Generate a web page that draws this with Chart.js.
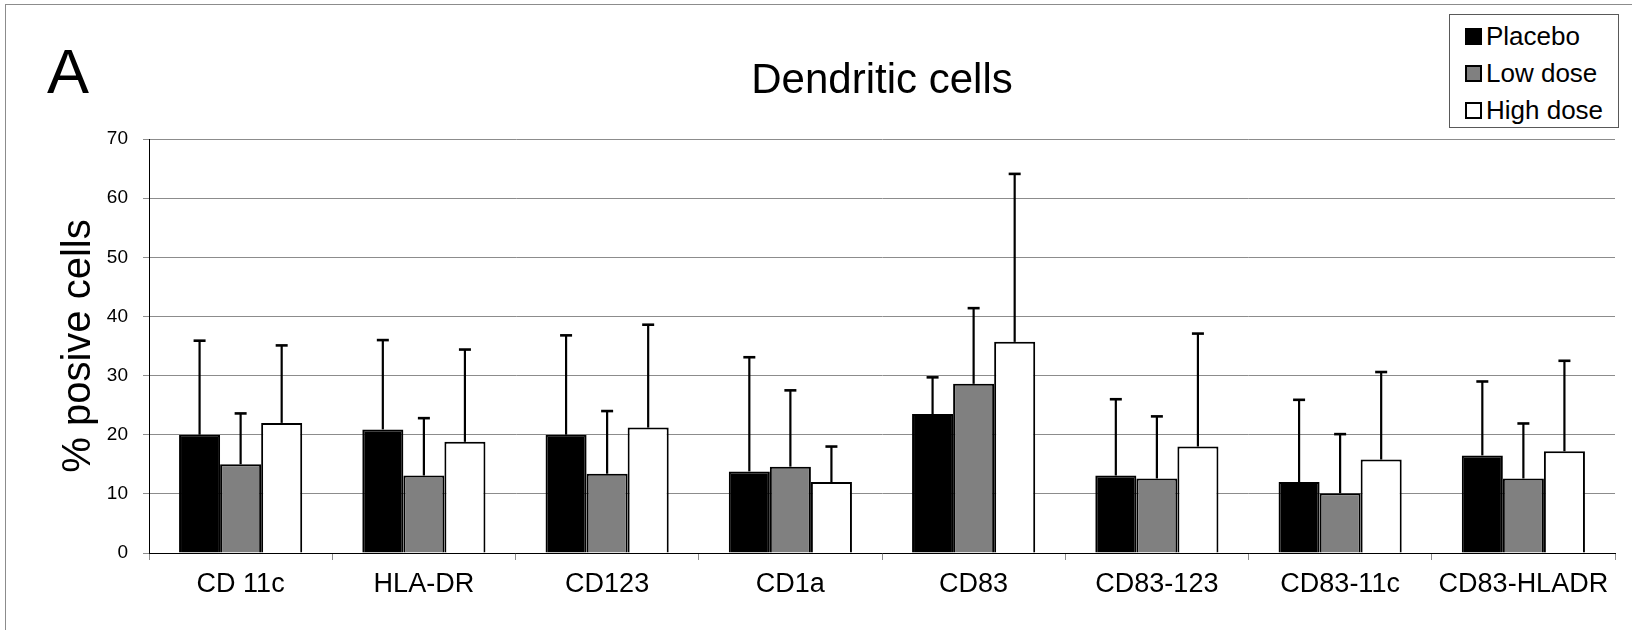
<!DOCTYPE html>
<html>
<head>
<meta charset="utf-8">
<script src="https://cdn.jsdelivr.net/npm/chart.js@4"></script>
<style>
    html, body { margin: 0; padding: 0; background: #fff; }
    body { width: 1632px; height: 630px; position: relative; overflow: hidden; font-family: "Liberation Sans", Arial, sans-serif; }
    #frame { position: absolute; left: 5px; top: 4px; width: 1700px; height: 700px; border-left: 1px solid #8c8c8c; border-top: 1px solid #8c8c8c; }
    #chartBox { position: absolute; left: 0; top: 0; width: 1632px; height: 630px; }
    #legend { position: absolute; left: 1449px; top: 14px; width: 168px; height: 112px; border: 1px solid #595959; background: #fff; }
    .item { position: absolute; left: 15px; height: 24px; display: flex; align-items: center; font-size: 26px; color: #000; white-space: nowrap; }
    .swatch { width: 13px; height: 13px; border: 2px solid #000; margin-right: 4px; }
</style>
</head>
<body>
<div id="frame"></div>
<div id="chartBox"><canvas id="chart" width="1632" height="630"></canvas></div>
<div id="legend"></div>
<script>
// --- dados ---
const categorias = ['CD 11c', 'HLA-DR', 'CD123', 'CD1a', 'CD83', 'CD83-123', 'CD83-11c', 'CD83-HLADR'];
const nomesSeries = ['Placebo', 'Low dose', 'High dose'];
const coresSeries = ['#000000', '#808080', '#ffffff'];

const placebo = [20.0, 20.9, 20.0, 13.8, 23.5, 13.1, 12.0, 16.5];
const lowDose = [15.0, 13.1, 13.4, 14.6, 28.6, 12.6, 10.1, 12.6];
const highDose = [22.0, 18.8, 21.2, 12.0, 35.7, 18.0, 15.8, 17.2];

// desvio (só a parte de cima é desenhada)
const placeboSD = [15.9, 15.1, 16.8, 19.3, 6.2, 12.9, 13.9, 12.5];
const lowDoseSD = [8.6, 9.7, 10.6, 12.9, 12.8, 10.5, 10.0, 9.3];
const highDoseSD = [13.1, 15.6, 17.4, 6.0, 28.4, 19.1, 14.8, 15.3];

const yTicks = [0, 10, 20, 30, 40, 50, 60, 70];

const valores = [placebo, lowDose, highDose];
const desvios = [placeboSD, lowDoseSD, highDoseSD];

// --- legenda em HTML ---
const legendEl = document.getElementById('legend');
const legendTops = [9, 46, 83];
nomesSeries.forEach((nome, i) => {
    const item = document.createElement('div');
    item.className = 'item';
    item.style.top = legendTops[i] + 'px';
    const sw = document.createElement('span');
    sw.className = 'swatch';
    sw.style.background = coresSeries[i];
    item.appendChild(sw);
    item.appendChild(document.createTextNode(nome));
    legendEl.appendChild(item);
});

// barras de erro + textos extras
const extrasPlugin = {
    id: 'extras',
    afterDatasetsDraw(chart) {
        const ctx = chart.ctx;
        const yScale = chart.scales.y;
        ctx.save();
        ctx.strokeStyle = '#000';
        chart.data.datasets.forEach((ds, di) => {
            const meta = chart.getDatasetMeta(di);
            meta.data.forEach((bar, i) => {
                const topo = yScale.getPixelForValue(ds.data[i] + desvios[di][i]);
                ctx.lineWidth = 2.2;
                ctx.beginPath();
                ctx.moveTo(bar.x, bar.y);
                ctx.lineTo(bar.x, topo);
                ctx.stroke();
                ctx.lineWidth = 2.6;
                ctx.beginPath();
                ctx.moveTo(bar.x - 6, topo);
                ctx.lineTo(bar.x + 6, topo);
                ctx.stroke();
            });
        });
        ctx.restore();
    },
    afterDraw(chart) {
        const ctx = chart.ctx;
        const area = chart.chartArea;
        ctx.save();
        ctx.fillStyle = '#000';
        ctx.textBaseline = 'alphabetic';
        // letra do painel
        ctx.font = '63px "Liberation Sans", Arial, sans-serif';
        ctx.textAlign = 'left';
        ctx.fillText('A', 47, 93);
        // título
        ctx.font = '42px "Liberation Sans", Arial, sans-serif';
        ctx.textAlign = 'center';
        ctx.fillText('Dendritic cells', (area.left + area.right) / 2, 93);
        // título do eixo y
        ctx.translate(90, (area.top + area.bottom) / 2);
        ctx.rotate(-Math.PI / 2);
        ctx.font = '40px "Liberation Sans", Arial, sans-serif';
        ctx.fillText('% posive cells', 0, 0);
        ctx.restore();
    }
};

const ctx = document.getElementById('chart').getContext('2d');
new Chart(ctx, {
    type: 'bar',
    data: {
        labels: categorias,
        datasets: valores.map((serie, i) => ({
            label: nomesSeries[i],
            data: serie,
            backgroundColor: coresSeries[i],
            borderColor: '#000',
            borderWidth: 2,
            categoryPercentage: 0.672,
            barPercentage: 1.0
        }))
    },
    options: {
        responsive: false,
        animation: false,
        layout: { padding: { top: 139, right: 17, left: 0, bottom: 0 } },
        plugins: {
            legend: { display: false },
            title: { display: false },
            tooltip: { enabled: false }
        },
        scales: {
            x: {
                afterFit(scale) { scale.height = 77; },
                grid: { drawOnChartArea: false, drawTicks: true, tickLength: 7, color: '#8c8c8c', offset: true },
                border: { color: '#000', width: 1 },
                ticks: {
                    color: '#000',
                    padding: 8,
                    maxRotation: 0,
                    font: { family: '"Liberation Sans", Arial, sans-serif', size: 27 }
                }
            },
            y: {
                min: 0,
                max: 70,
                afterFit(scale) { scale.width = 149; },
                afterBuildTicks(scale) { scale.ticks = yTicks.map(v => ({ value: v })); },
                grid: { color: '#8c8c8c', lineWidth: 1, tickLength: 6 },
                border: { color: '#000', width: 1 },
                ticks: {
                    color: '#000',
                    padding: 15,
                    font: { family: '"Liberation Sans", Arial, sans-serif', size: 19 }
                }
            }
        }
    },
    plugins: [extrasPlugin]
});
</script>
</body>
</html>
